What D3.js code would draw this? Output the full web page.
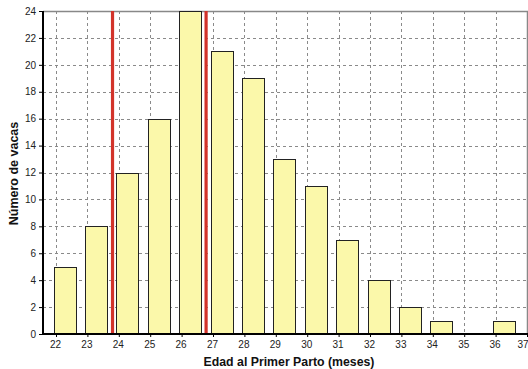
<!DOCTYPE html>
<html><head><meta charset="utf-8">
<script src="https://cdn.jsdelivr.net/npm/d3@7"></script>
<style>body{margin:0;background:#fff}svg{display:block;font-family:"Liberation Sans",Arial,sans-serif}</style>
</head><body><svg id="c" width="528" height="369"></svg>
<script>
const months = [22,23,24,25,26,27,28,29,30,31,32,33,34,35,36];
const counts = [5,8,12,16,24,21,19,13,11,7,4,2,1,0,1];
const xTicks = [22,23,24,25,26,27,28,29,30,31,32,33,34,35,36,37];
const yTicks = [0,2,4,6,8,10,12,14,16,18,20,22,24];
const redLines = [23.8, 26.78];

const svg = d3.select("#c");
const L=43, R=527, T=11, B=334;
const x = d3.scaleLinear().domain([22,37]).range([56,527]);
const y = d3.scaleLinear().domain([0,24]).range([B,T]);

// gridlines
svg.append("g").selectAll("line").data(yTicks.filter(d=>d>0&&d<24)).join("line")
  .attr("x1",L).attr("x2",R).attr("y1",d=>Math.round(y(d))+0.5).attr("y2",d=>Math.round(y(d))+0.5)
  .attr("stroke","#8a8a8a").attr("stroke-dasharray","3,3");
svg.append("g").selectAll("line").data(xTicks.filter(d=>d<37)).join("line")
  .attr("x1",d=>Math.round(x(d))+0.5).attr("x2",d=>Math.round(x(d))+0.5).attr("y1",T).attr("y2",B)
  .attr("stroke","#8a8a8a").attr("stroke-dasharray","3,3");

// border top/right
svg.append("path").attr("d",`M${L},${T+0.5}H${R+0.5}V${B}`).attr("fill","none").attr("stroke","#888").attr("stroke-width",1.5);

// bars
const bw = 22;
svg.append("g").selectAll("rect").data(months.map((m,i)=>({m,c:counts[i]})).filter(d=>d.c>0)).join("rect")
  .attr("x",d=>Math.round(x(d.m)-2.5)+0.5).attr("width",bw)
  .attr("y",d=>Math.round(y(d.c))+0.5).attr("height",d=>B-Math.round(y(d.c)))
  .attr("fill","#fbf8aa").attr("stroke","#222").attr("stroke-width",1);

// red lines
svg.append("g").selectAll("line").data(redLines).join("line")
  .attr("x1",d=>x(d)).attr("x2",d=>x(d)).attr("y1",T).attr("y2",B)
  .attr("stroke","#d2332a").attr("stroke-width",3.2);

// axes
const xa = svg.append("g").attr("transform",`translate(0,${B})`)
  .call(d3.axisBottom(x).tickValues(xTicks).tickSize(3).tickPadding(4).tickFormat(d3.format("d")));
const ya = svg.append("g").attr("transform",`translate(${L},0)`)
  .call(d3.axisLeft(y).tickValues(yTicks).tickSize(4).tickPadding(3).tickFormat(d3.format("d")));
[xa,ya].forEach(a=>{
  a.select(".domain").attr("stroke","#000").attr("stroke-width",2);
  a.selectAll(".tick line").attr("stroke","#000");
  a.selectAll(".tick text").attr("fill","#222").style("font-size","10px").style("font-family","'Liberation Sans',Arial,sans-serif");
});
xa.selectAll(".tick text").attr("dx","-1");
xa.selectAll(".tick text").filter(d=>d===37).attr("text-anchor","end").attr("dx","1");
xa.select(".domain").attr("d",`M${L},0H${R+1}`);
ya.select(".domain").attr("d",`M0,${T}V${B+1}`);

svg.append("text").attr("x",289).attr("y",366).attr("text-anchor","middle")
  .style("font-size","12.3px").style("font-weight","bold").attr("fill","#111").text("Edad al Primer Parto (meses)");
svg.append("text").attr("transform",`translate(18,${(T+B)/2+1}) rotate(-90)`).attr("text-anchor","middle")
  .style("font-size","12.5px").style("font-weight","bold").attr("fill","#111").text("Número de vacas");
</script></body></html>
